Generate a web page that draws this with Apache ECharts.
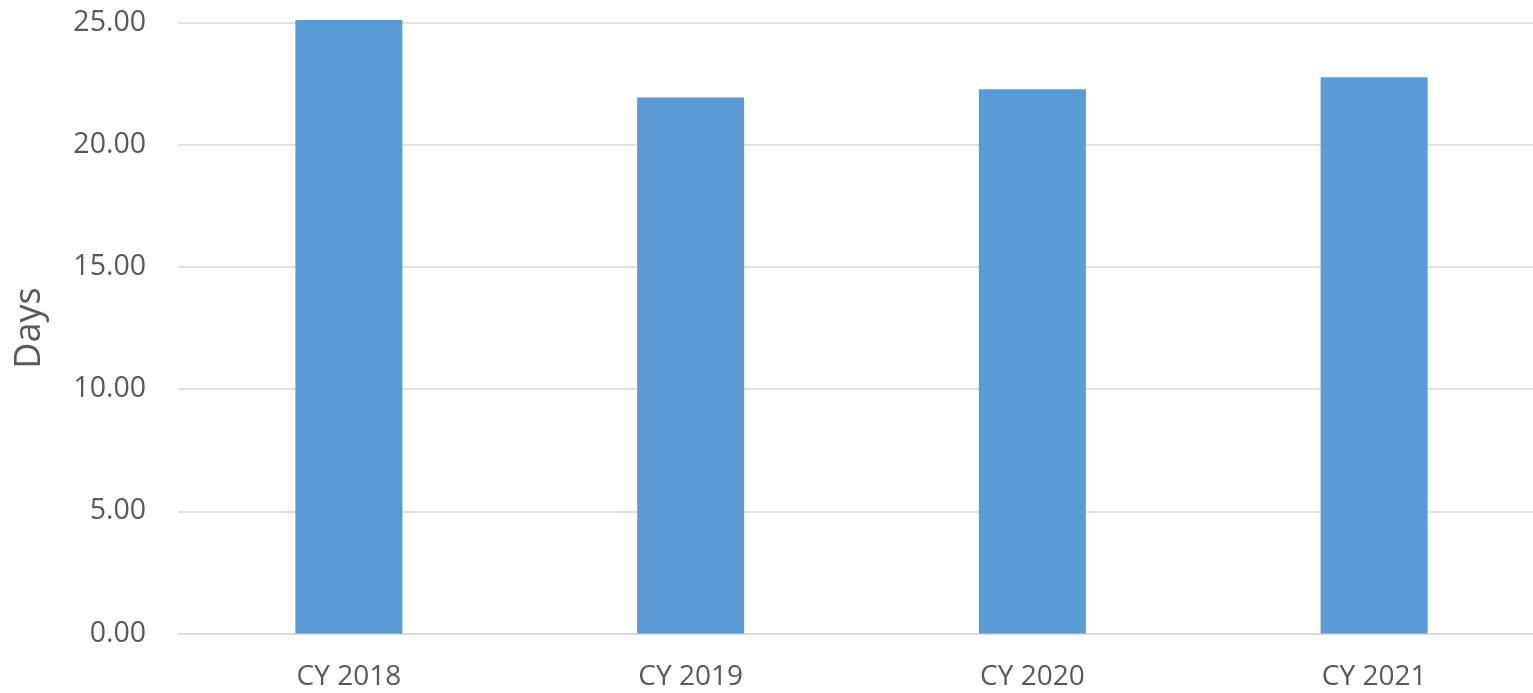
<!DOCTYPE html>
<html>
<head>
<meta charset="utf-8">
<script src="https://cdn.jsdelivr.net/npm/echarts@6/dist/echarts.min.js"></script>
<style>
  html, body { margin: 0; padding: 0; background: #fff; }
  #main { width: 1533px; height: 693px; }
</style>
</head>
<body>
<div id="main"></div>
<script>
// data
var categories = ['CY 2018', 'CY 2019', 'CY 2020', 'CY 2021']
var days = [25.1, 21.93, 22.27, 22.76]
var yTicks = { min: 0, max: 25, interval: 5 }

var myChart = echarts.init(document.getElementById('main'))
var textColor = '#595959'
var font = 'Open Sans'

var option = {
  animation: false,
  grid: {
    left: 178,
    top: 22.5,
    width: 1367,
    bottom: 59.5,
    containLabel: false,
    outerBoundsMode: 'none'
  },
  xAxis: {
    type: 'category',
    data: categories,
    axisLine: { lineStyle: { color: '#d9d9d9', width: 1.5 } },
    axisTick: { show: false },
    axisLabel: { color: textColor, fontFamily: font, fontSize: 28, margin: 30 }
  },
  yAxis: {
    type: 'value',
    min: yTicks.min,
    max: yTicks.max,
    interval: yTicks.interval,
    name: 'Days',
    nameLocation: 'middle',
    nameRotate: 90,
    nameGap: 130,
    nameTextStyle: { color: textColor, fontFamily: font, fontSize: 36 },
    axisLine: { show: false },
    axisTick: { show: false },
    splitLine: { lineStyle: { color: '#d9d9d9', width: 1.5 } },
    axisLabel: {
      color: textColor,
      fontFamily: font,
      fontSize: 28.5,
      margin: 32,
      formatter: function (v) { return v.toFixed(2) }
    }
  },
  series: [{
    type: 'bar',
    data: days,
    barWidth: 107,
    clip: false,
    itemStyle: { color: '#5B9BD5' }
  }]
}

myChart.setOption(option)
</script>
</body>
</html>
